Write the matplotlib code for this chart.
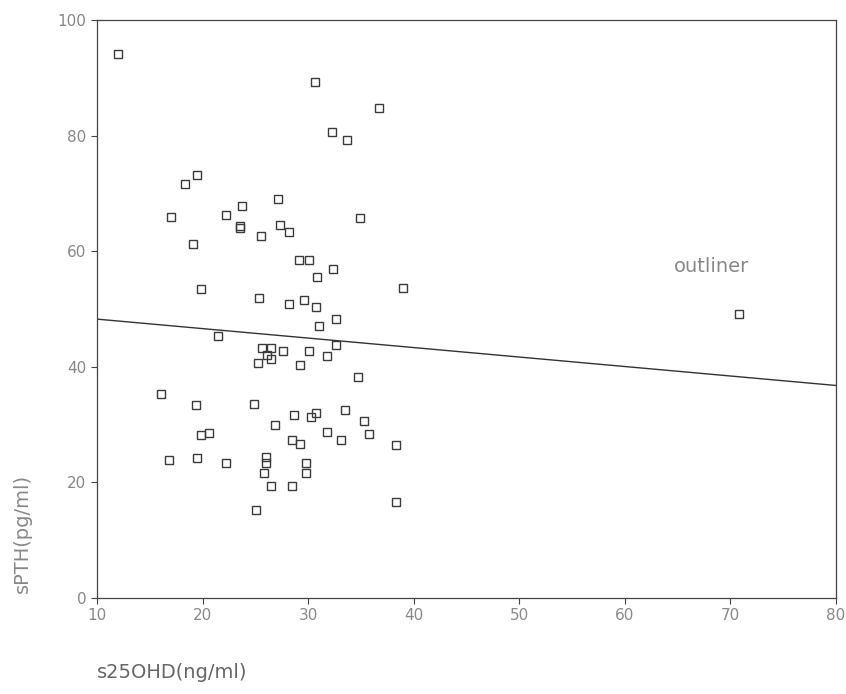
import numpy as np
import matplotlib.pyplot as plt

# s25OHD (ng/ml) vs sPTH (pg/ml)
s25ohd = [11.96, 30.67, 36.7, 32.3, 33.7, 19.5, 18.3, 17.0, 22.2, 23.7,
          23.5, 23.5, 25.5, 27.1, 27.3, 28.15, 19.1, 34.9, 29.1, 30.1,
          30.8, 32.4, 19.85, 39.0, 25.3, 28.15, 29.6, 30.7, 31.0, 32.6,
          21.5, 25.65, 26.5, 26.1, 26.5, 25.25, 27.6, 29.2, 30.1, 31.75,
          32.6, 34.75, 16.06, 19.35, 24.9, 28.65, 30.3, 30.7, 33.5, 35.3,
          26.9, 19.85, 20.6, 31.75, 35.8, 28.5, 29.2, 33.1, 38.3, 16.8,
          19.5, 22.2, 26.0, 26.0, 25.8, 29.8, 29.8, 26.5, 28.5, 25.1,
          38.3, 70.8]
spth = [94.1, 89.3, 84.8, 80.6, 79.2, 73.2, 71.6, 65.9, 66.3, 67.9,
        64.3, 64.0, 62.7, 69.0, 64.6, 63.4, 61.3, 65.7, 58.5, 58.5,
        55.5, 56.9, 53.5, 53.7, 51.9, 50.9, 51.6, 50.3, 47.1, 48.3,
        45.3, 43.3, 43.3, 42.1, 41.4, 40.7, 42.7, 40.4, 42.7, 41.8,
        43.7, 38.2, 35.3, 33.4, 33.5, 31.6, 31.3, 32.0, 32.6, 30.7,
        29.9, 28.2, 28.5, 28.7, 28.4, 27.3, 26.6, 27.4, 26.4, 23.9,
        24.3, 23.3, 24.4, 23.3, 21.7, 23.4, 21.7, 19.4, 19.4, 15.2,
        16.7, 49.1]

# fitted line as printed in the figure
fit_intercept = 49.9
fit_slope = -0.164

xticks = [10, 20, 30, 40, 50, 60, 70, 80]
yticks = [0, 20, 40, 60, 80, 100]

fig = plt.figure(figsize=(8.46, 6.94), dpi=100)
ax = fig.add_axes([0.1147, 0.1383, 0.8733, 0.8327])

ax.plot(s25ohd, spth, 's', markersize=5.5, markerfacecolor='none',
        markeredgecolor='#3a3a3a', markeredgewidth=1.0)

xl = np.array([10, 80])
ax.plot(xl, fit_intercept + fit_slope * xl, color='#333333', linewidth=1.0)

ax.text(64.7, 57.4, 'outliner', fontsize=14, color='#888888',
        va='center', ha='left')

ax.set_xlim(10, 80)
ax.set_ylim(0, 100)
ax.set_xticks(xticks)
ax.set_yticks(yticks)
ax.tick_params(direction='out', length=4, width=0.8, colors='#444444',
               labelcolor='#888888', labelsize=11)
for s in ax.spines.values():
    s.set_color('#444444')
    s.set_linewidth(0.9)

fig.text(0.115, 0.017, 's25OHD(ng/ml)', fontsize=14, color='#666666',
         ha='left', va='bottom')
fig.text(0.027, 0.232, 'sPTH(pg/ml)', fontsize=14, color='#888888',
         rotation=90, ha='center', va='center')

fig.savefig('out.png', dpi=100)
